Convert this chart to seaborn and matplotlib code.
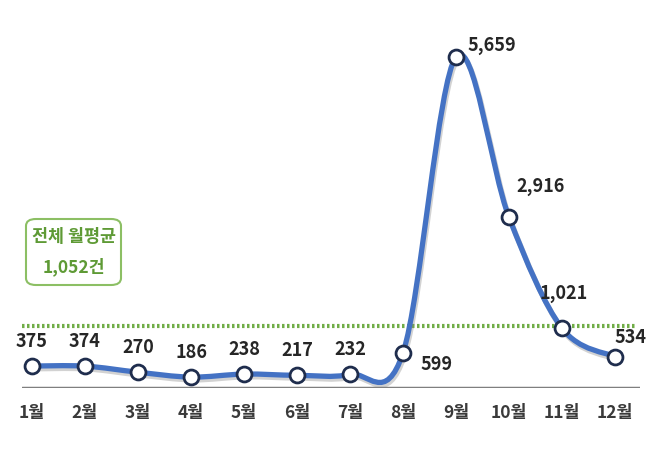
import numpy as np
import pandas as pd
import matplotlib
matplotlib.use("Agg")
import matplotlib.pyplot as plt
from matplotlib.path import Path
from matplotlib.patches import PathPatch, FancyBboxPatch
import matplotlib.patheffects as pe
import seaborn as sns

months = ["1월", "2월", "3월", "4월", "5월", "6월", "7월", "8월", "9월", "10월", "11월", "12월"]
values = [375, 374, 270, 186, 238, 217, 232, 599, 5659, 2916, 1021, 534]
average = 1052
avg_label = ["전체 월평균", "1,052건"]

sns.set_theme(style="white")
plt.rcParams['font.family'] = ['Noto Sans CJK KR', 'DejaVu Sans']

df = pd.DataFrame({"x": np.arange(1, len(values) + 1), "month": months, "value": values})

fig = plt.figure(figsize=(6.62, 4.59), dpi=100)
ax = fig.add_axes([22 / 662, (459 - 388) / 459, (640 - 22) / 662, 388 / 459])
ax.set_xlim(1 - 10 / 53, 12 + 25 / 53)
ax.set_ylim(0, 6630)
ax.axis("off")

# smooth (Catmull-Rom style bezier) line through the data points
xs = df["x"].to_numpy(float)
ys = df["value"].to_numpy(float)
P = np.column_stack([xs, ys])
verts = [P[0]]
codes = [Path.MOVETO]
n = len(P)
for i in range(n - 1):
    p0 = P[i - 1] if i > 0 else P[i]
    p1 = P[i]
    p2 = P[i + 1]
    p3 = P[i + 2] if i + 2 < n else P[i + 1]
    c1 = p1 + (p2 - p0) / 6
    c2 = p2 - (p3 - p1) / 6
    verts += [c1, c2, p2]
    codes += [Path.CURVE4] * 3
path = Path(verts, codes)
line = PathPatch(path, fill=False, edgecolor="#4472C4", lw=3.8, capstyle="round", zorder=3,
                 path_effects=[pe.SimpleLineShadow(offset=(1, -2), shadow_color="gray", alpha=0.35),
                               pe.Normal()])
ax.add_patch(line)

# baseline axis
ax.axhline(0, color="#7F7F7F", lw=2.5, zorder=2,
           path_effects=[pe.SimpleLineShadow(offset=(0, -1.5), alpha=0.3), pe.Normal()])

# average dotted line
ax.plot([0.81, 12.4], [average, average], color="#70AD47", lw=3, ls=(0, (0.6, 0.6)), zorder=2)

# markers
sns.scatterplot(data=df, x="x", y="value", ax=ax, s=115, marker="o", color="white",
                edgecolor="#1F2D4D", linewidth=2, zorder=5, legend=False)

# value labels
offsets = {0: (0, 18), 1: (0, 18), 2: (0, 18), 3: (0, 18), 4: (0, 18), 5: (0, 18), 6: (0, 18),
           7: (24, -8), 8: (26, 8), 9: (23, 22), 10: (1, 25), 11: (11, 14)}
for i, (xv, yv) in enumerate(zip(xs, ys)):
    dx, dy = offsets[i]
    ax.annotate(f"{int(yv):,}", (xv, yv), xytext=(dx, dy), textcoords="offset points",
                ha="center", va="center", fontsize=13, fontweight="bold", color="#262626",
                zorder=6)

# month labels
for xv, m in zip(xs, months):
    ax.annotate(m, (xv, 0), xytext=(0, -18), textcoords="offset points", ha="center",
                va="center", fontsize=12.5, fontweight="bold", color="#3A3A3A", annotation_clip=False)

# average box
box = FancyBboxPatch((26 / 662, (459 - 285) / 459), 95 / 662, 66 / 459,
                     boxstyle="round,pad=0,rounding_size=0.015", transform=fig.transFigure,
                     facecolor="white", edgecolor="#8CBF64", lw=1.5, zorder=1)
fig.patches.append(box)
fig.text(73.5 / 662, (459 - 237) / 459, avg_label[0], ha="center", va="center", fontsize=12.5,
         fontweight="bold", color="#5E9A35", zorder=10)
fig.text(73.5 / 662, (459 - 267) / 459, avg_label[1], ha="center", va="center", fontsize=12.5,
         fontweight="bold", color="#5E9A35", zorder=10)

fig.savefig("out.png", dpi=100)
